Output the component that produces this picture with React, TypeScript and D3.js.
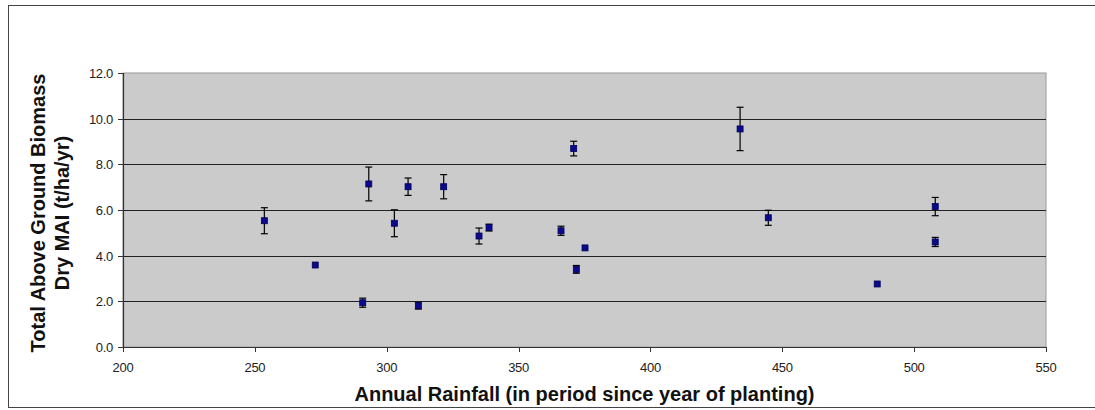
import React, { useEffect } from 'react';
import * as d3 from 'd3';

// rainfall (mm) and biomass MAI (t/ha/yr), with error bar half-widths
const rainfall = [253.6, 272.9, 290.9, 293.2, 302.9, 308.1, 312.0, 321.6, 335.0, 338.8, 366.1, 370.9, 371.9, 375.2, 434.0, 444.7, 486.0, 508.0, 508.0];
const biomass = [5.53, 3.59, 1.94, 7.14, 5.42, 7.02, 1.81, 7.02, 4.86, 5.23, 5.09, 8.69, 3.4, 4.34, 9.55, 5.66, 2.76, 6.15, 4.6];
const errors = [0.57, 0.05, 0.2, 0.74, 0.59, 0.38, 0.15, 0.53, 0.35, 0.15, 0.2, 0.32, 0.17, 0.05, 0.95, 0.33, 0.0, 0.4, 0.2];

const xTicks = [200, 250, 300, 350, 400, 450, 500, 550];
const yTicks = [0, 2, 4, 6, 8, 10, 12];

const W = 1095;
const H = 410;
const plot = { left: 123, right: 1046, top: 73, bottom: 347 };

const font = '"Liberation Sans", Arial, sans-serif';

const App = () => {
  useEffect(() => {
    document.body.style.margin = '0';
  }, []);

  const x = d3.scaleLinear().domain([200, 550]).range([plot.left, plot.right]);
  const y = d3.scaleLinear().domain([0, 12]).range([plot.bottom, plot.top]);

  const points = rainfall.map((r, i) => ({ r, v: biomass[i], e: errors[i] }));
  const cap = 3.5;
  const mk = 6;

  return (
    <svg width={W} height={H} style={{ display: 'block', background: '#fff' }}>
      <rect x={8.5} y={5.5} width={W + 10} height={402} fill="#fff" stroke="#444" strokeWidth={1} />

      <rect x={plot.left} y={plot.top} width={plot.right - plot.left} height={plot.bottom - plot.top} fill="#cbcbcb" stroke="#9a9a9a" strokeWidth={1} />

      {yTicks.filter((t) => t > 0 && t < 12).map((t) => (
        <line key={`g${t}`} x1={plot.left} x2={plot.right} y1={Math.round(y(t)) + 0.5} y2={Math.round(y(t)) + 0.5} stroke="#222" strokeWidth={1.2} />
      ))}

      {/* axes */}
      <line x1={plot.left + 0.5} x2={plot.left + 0.5} y1={plot.top} y2={plot.bottom} stroke="#333" strokeWidth={1.2} />
      <line x1={plot.left} x2={plot.right} y1={plot.bottom + 0.5} y2={plot.bottom + 0.5} stroke="#333" strokeWidth={1.2} />

      {yTicks.map((t) => (
        <g key={`y${t}`}>
          <line x1={plot.left - 5} x2={plot.left} y1={Math.round(y(t)) + 0.5} y2={Math.round(y(t)) + 0.5} stroke="#333" />
          <text x={plot.left - 10} y={y(t) + 5} textAnchor="end" fontFamily={font} fontSize={13} letterSpacing={-0.3} fill="#222">
            {d3.format('.1f')(t)}
          </text>
        </g>
      ))}

      {xTicks.map((t) => (
        <g key={`x${t}`}>
          <line x1={Math.round(x(t)) + 0.5} x2={Math.round(x(t)) + 0.5} y1={plot.bottom} y2={plot.bottom + 5} stroke="#333" />
          <text x={x(t)} y={plot.bottom + 25} textAnchor="middle" fontFamily={font} fontSize={13} letterSpacing={-0.3} fill="#222">
            {t}
          </text>
        </g>
      ))}

      {points.map((p, i) => (
        <g key={`p${i}`}>
          {p.e > 0.08 && (
            <g stroke="#000" strokeWidth={1.2}>
              <line x1={x(p.r)} x2={x(p.r)} y1={y(p.v + p.e)} y2={y(p.v - p.e)} />
              <line x1={x(p.r) - cap} x2={x(p.r) + cap} y1={y(p.v + p.e)} y2={y(p.v + p.e)} />
              <line x1={x(p.r) - cap} x2={x(p.r) + cap} y1={y(p.v - p.e)} y2={y(p.v - p.e)} />
            </g>
          )}
          <rect x={x(p.r) - mk / 2} y={y(p.v) - mk / 2} width={mk} height={mk} fill="#0a0a8a" stroke="#00005a" strokeWidth={0.8} />
        </g>
      ))}

      <text
        transform={`translate(45, 213) rotate(-90)`}
        textAnchor="middle"
        fontFamily={font}
        fontWeight="bold"
        fontSize={20}
        fill="#111"
      >
        <tspan x={0} dy={0}>Total Above Ground Biomass</tspan>
        <tspan x={0} dy={24}>Dry MAI (t/ha/yr)</tspan>
      </text>

      <text x={(plot.left + plot.right) / 2} y={401} textAnchor="middle" fontFamily={font} fontWeight="bold" fontSize={20} fill="#111">
        Annual Rainfall (in period since year of planting)
      </text>
    </svg>
  );
};

export default App;
